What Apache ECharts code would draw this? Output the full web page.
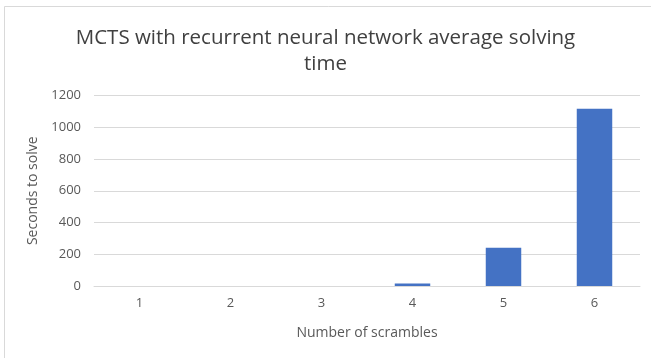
<!DOCTYPE html>
<html>
<head>
<meta charset="utf-8">
<script src="https://cdn.jsdelivr.net/npm/echarts@6/dist/echarts.min.js"></script>
<style>
  html, body { margin: 0; padding: 0; background: #fff; }
  #chart { width: 651px; height: 358px; }
</style>
</head>
<body>
<div id="chart"></div>
<script>
// Average solving time per scramble depth
const scrambles = ['1', '2', '3', '4', '5', '6'];
const secondsToSolve = [0.1, 0.2, 0.3, 16, 241, 1116];
const yTicks = [0, 200, 400, 600, 800, 1000, 1200];

const font = '"Open Sans", "Liberation Sans", sans-serif';
const chart = echarts.init(document.getElementById('chart'), null, { renderer: 'canvas' });

chart.setOption({
  backgroundColor: '#ffffff',
  animation: false,
  graphic: [{
    type: 'rect',
    shape: { x: 4.5, y: 6.5, width: 700, height: 400 },
    style: { fill: 'none', stroke: '#d9d9d9', lineWidth: 1 },
    silent: true
  }],
  title: {
    text: 'MCTS with recurrent neural network average solving\ntime',
    left: 'center',
    top: 20,
    textStyle: {
      fontFamily: font,
      fontSize: 20.5,
      fontWeight: 'normal',
      color: '#404040',
      lineHeight: 26
    }
  },
  grid: { left: 94, right: 11, top: 95.5, bottom: 72 },
  xAxis: {
    type: 'category',
    data: scrambles,
    name: 'Number of scrambles',
    nameLocation: 'middle',
    nameGap: 40,
    nameTextStyle: { fontFamily: font, fontSize: 14, color: '#595959' },
    axisLine: { lineStyle: { color: '#d9d9d9' } },
    axisTick: { show: false },
    axisLabel: { fontFamily: font, fontSize: 13, color: '#595959', margin: 11 }
  },
  yAxis: {
    type: 'value',
    min: yTicks[0],
    max: yTicks[yTicks.length - 1],
    interval: yTicks[1] - yTicks[0],
    name: 'Seconds to solve',
    nameLocation: 'middle',
    nameGap: 47,
    nameTextStyle: { fontFamily: font, fontSize: 14, color: '#595959' },
    axisLine: { show: false },
    axisTick: { show: false },
    splitLine: { lineStyle: { color: '#d9d9d9', width: 1 } },
    axisLabel: {
      fontFamily: font, fontSize: 13, color: '#595959', margin: 13,
      formatter: v => String(v)
    }
  },
  series: [{
    type: 'bar',
    data: secondsToSolve,
    barCategoryGap: '61%',
    itemStyle: { color: '#4472c4' }
  }]
});
</script>
</body>
</html>
